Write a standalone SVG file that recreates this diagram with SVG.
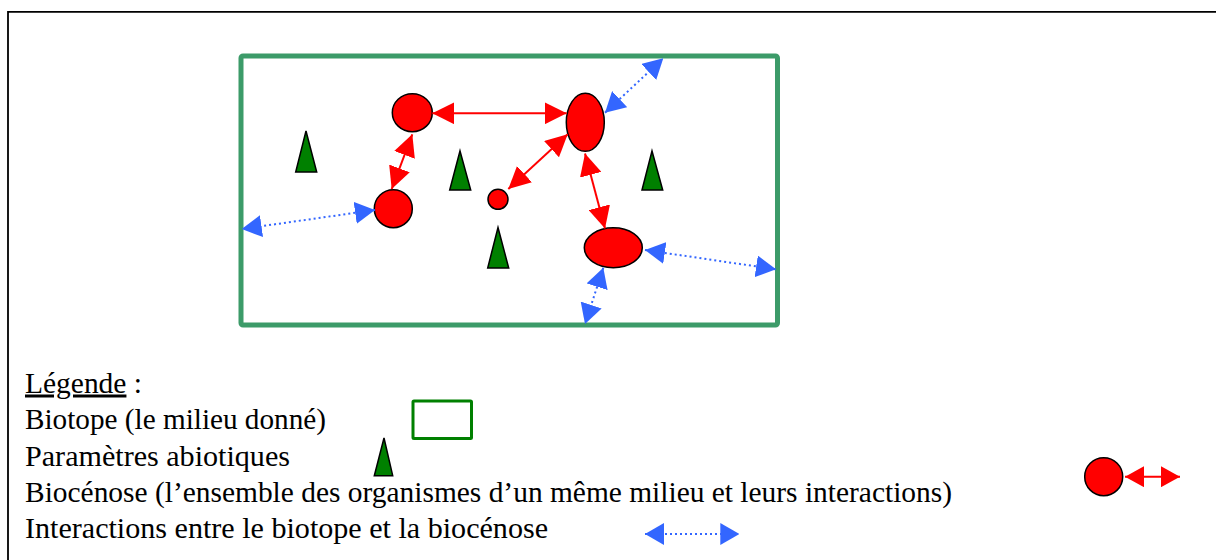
<svg xmlns="http://www.w3.org/2000/svg" width="1216" height="560" viewBox="0 0 1216 560">
<style>
.org{fill:#ff0000;stroke:#000;stroke-width:1.5}
.abio{fill:#008000;stroke:#000;stroke-width:1.5;stroke-linejoin:miter}
.red{stroke:#ff0000;stroke-width:2;fill:none}
.blue{stroke:#3366ff;stroke-width:2;fill:none;stroke-dasharray:2 3}
.txt{font-family:"Liberation Serif","Times New Roman",serif;font-size:30px;fill:#000}
</style>
<defs>
<marker id="ra" markerUnits="userSpaceOnUse" viewBox="0 0 22 22" markerWidth="22" markerHeight="22" refX="22" refY="11" orient="auto-start-reverse"><path d="M0,0 L22,11 L0,22 z" fill="#ff0000"/></marker>
<marker id="ba" markerUnits="userSpaceOnUse" viewBox="0 0 20 22" markerWidth="20" markerHeight="22" refX="20" refY="11" orient="auto-start-reverse"><path d="M0,0 L20,11 L0,22 z" fill="#3366ff"/></marker>
<marker id="ral" markerUnits="userSpaceOnUse" viewBox="0 0 19 21" markerWidth="19" markerHeight="21" refX="19" refY="10.5" orient="auto-start-reverse"><path d="M0,0 L19,10.5 L0,21 z" fill="#ff0000"/></marker>
<marker id="bal" markerUnits="userSpaceOnUse" viewBox="0 0 19 22" markerWidth="19" markerHeight="22" refX="19" refY="11" orient="auto-start-reverse"><path d="M0,0 L19,11 L0,22 z" fill="#3366ff"/></marker>
</defs>
<rect width="1216" height="560" fill="#fff"/>
<path d="M8,560 V11.8 H1216" fill="none" stroke="#000" stroke-width="1.8"/>

<g id="biotope">
<rect x="241" y="56" width="536.5" height="269" rx="2" fill="none" stroke="#3c9b69" stroke-width="5"/>
</g>

<g id="abiotic">
<polygon id="tri1" class="abio" points="306,131 316.7,172 295.7,172"/>
<polygon id="tri2" class="abio" points="460,151 470.7,190 449.7,190"/>
<polygon id="tri3" class="abio" points="498,227.5 508.7,268 487.7,268"/>
<polygon id="tri4" class="abio" points="652,151 662.7,190 642,190"/>
</g>

<g id="organisms">
<ellipse id="org1" class="org" cx="412.3" cy="112.7" rx="20" ry="19"/>
<ellipse id="org2" class="org" cx="393.3" cy="208.7" rx="19" ry="19"/>
<ellipse id="org3" class="org" cx="498" cy="199.3" rx="10" ry="10"/>
<ellipse id="org4" class="org" cx="585.3" cy="122.3" rx="19" ry="29"/>
<ellipse id="org5" class="org" cx="613.3" cy="247.7" rx="29" ry="20"/>
</g>

<g id="connectors">
<line class="red" x1="432.3" y1="113.3" x2="566.7" y2="113.3" marker-start="url(#ra)" marker-end="url(#ra)"/>
<line class="red" x1="412.3" y1="134.3" x2="391.7" y2="189" marker-start="url(#ra)" marker-end="url(#ra)"/>
<line class="red" x1="567.7" y1="134.3" x2="508.3" y2="189" marker-start="url(#ra)" marker-end="url(#ra)"/>
<line class="red" x1="585" y1="153.5" x2="605" y2="228.5" marker-start="url(#ra)" marker-end="url(#ra)"/>
<line class="blue" x1="375" y1="210" x2="241.7" y2="229" marker-start="url(#ba)" marker-end="url(#ba)"/>
<line class="blue" x1="605" y1="112.7" x2="663.3" y2="58.3" marker-start="url(#ba)" marker-end="url(#ba)"/>
<line class="blue" x1="645" y1="250" x2="776" y2="269.3" marker-start="url(#ba)" marker-end="url(#ba)"/>
<line class="blue" x1="603.3" y1="267.7" x2="585" y2="324" marker-start="url(#ba)" marker-end="url(#ba)"/>
</g>

<g id="legend">
<text class="txt" x="25" y="392.5" textLength="117" lengthAdjust="spacingAndGlyphs"><tspan text-decoration="underline">Légende</tspan> :</text>
<text class="txt" x="25" y="429" textLength="301" lengthAdjust="spacingAndGlyphs">Biotope (le milieu donné)</text>
<text class="txt" x="25" y="465.5" textLength="265" lengthAdjust="spacingAndGlyphs">Paramètres abiotiques</text>
<text class="txt" x="25" y="502" textLength="927" lengthAdjust="spacingAndGlyphs">Biocénose (l’ensemble des organismes d’un même milieu et leurs interactions)</text>
<text class="txt" x="25" y="538.3" textLength="523" lengthAdjust="spacingAndGlyphs">Interactions entre le biotope et la biocénose</text>
<rect id="leg-biotope" x="413" y="401" width="58.5" height="37.5" rx="1" fill="none" stroke="#008000" stroke-width="3"/>
<polygon id="leg-abio" class="abio" points="384,438 392.7,475.7 374.3,475.7"/>
<ellipse id="leg-org" class="org" cx="1103.7" cy="476.7" rx="19" ry="19"/>
<line class="red" x1="1125" y1="476.7" x2="1180" y2="476.7" marker-start="url(#ral)" marker-end="url(#ral)"/>
<line class="blue" x1="645" y1="534" x2="739.3" y2="534" marker-start="url(#bal)" marker-end="url(#bal)"/>
</g>
</svg>
